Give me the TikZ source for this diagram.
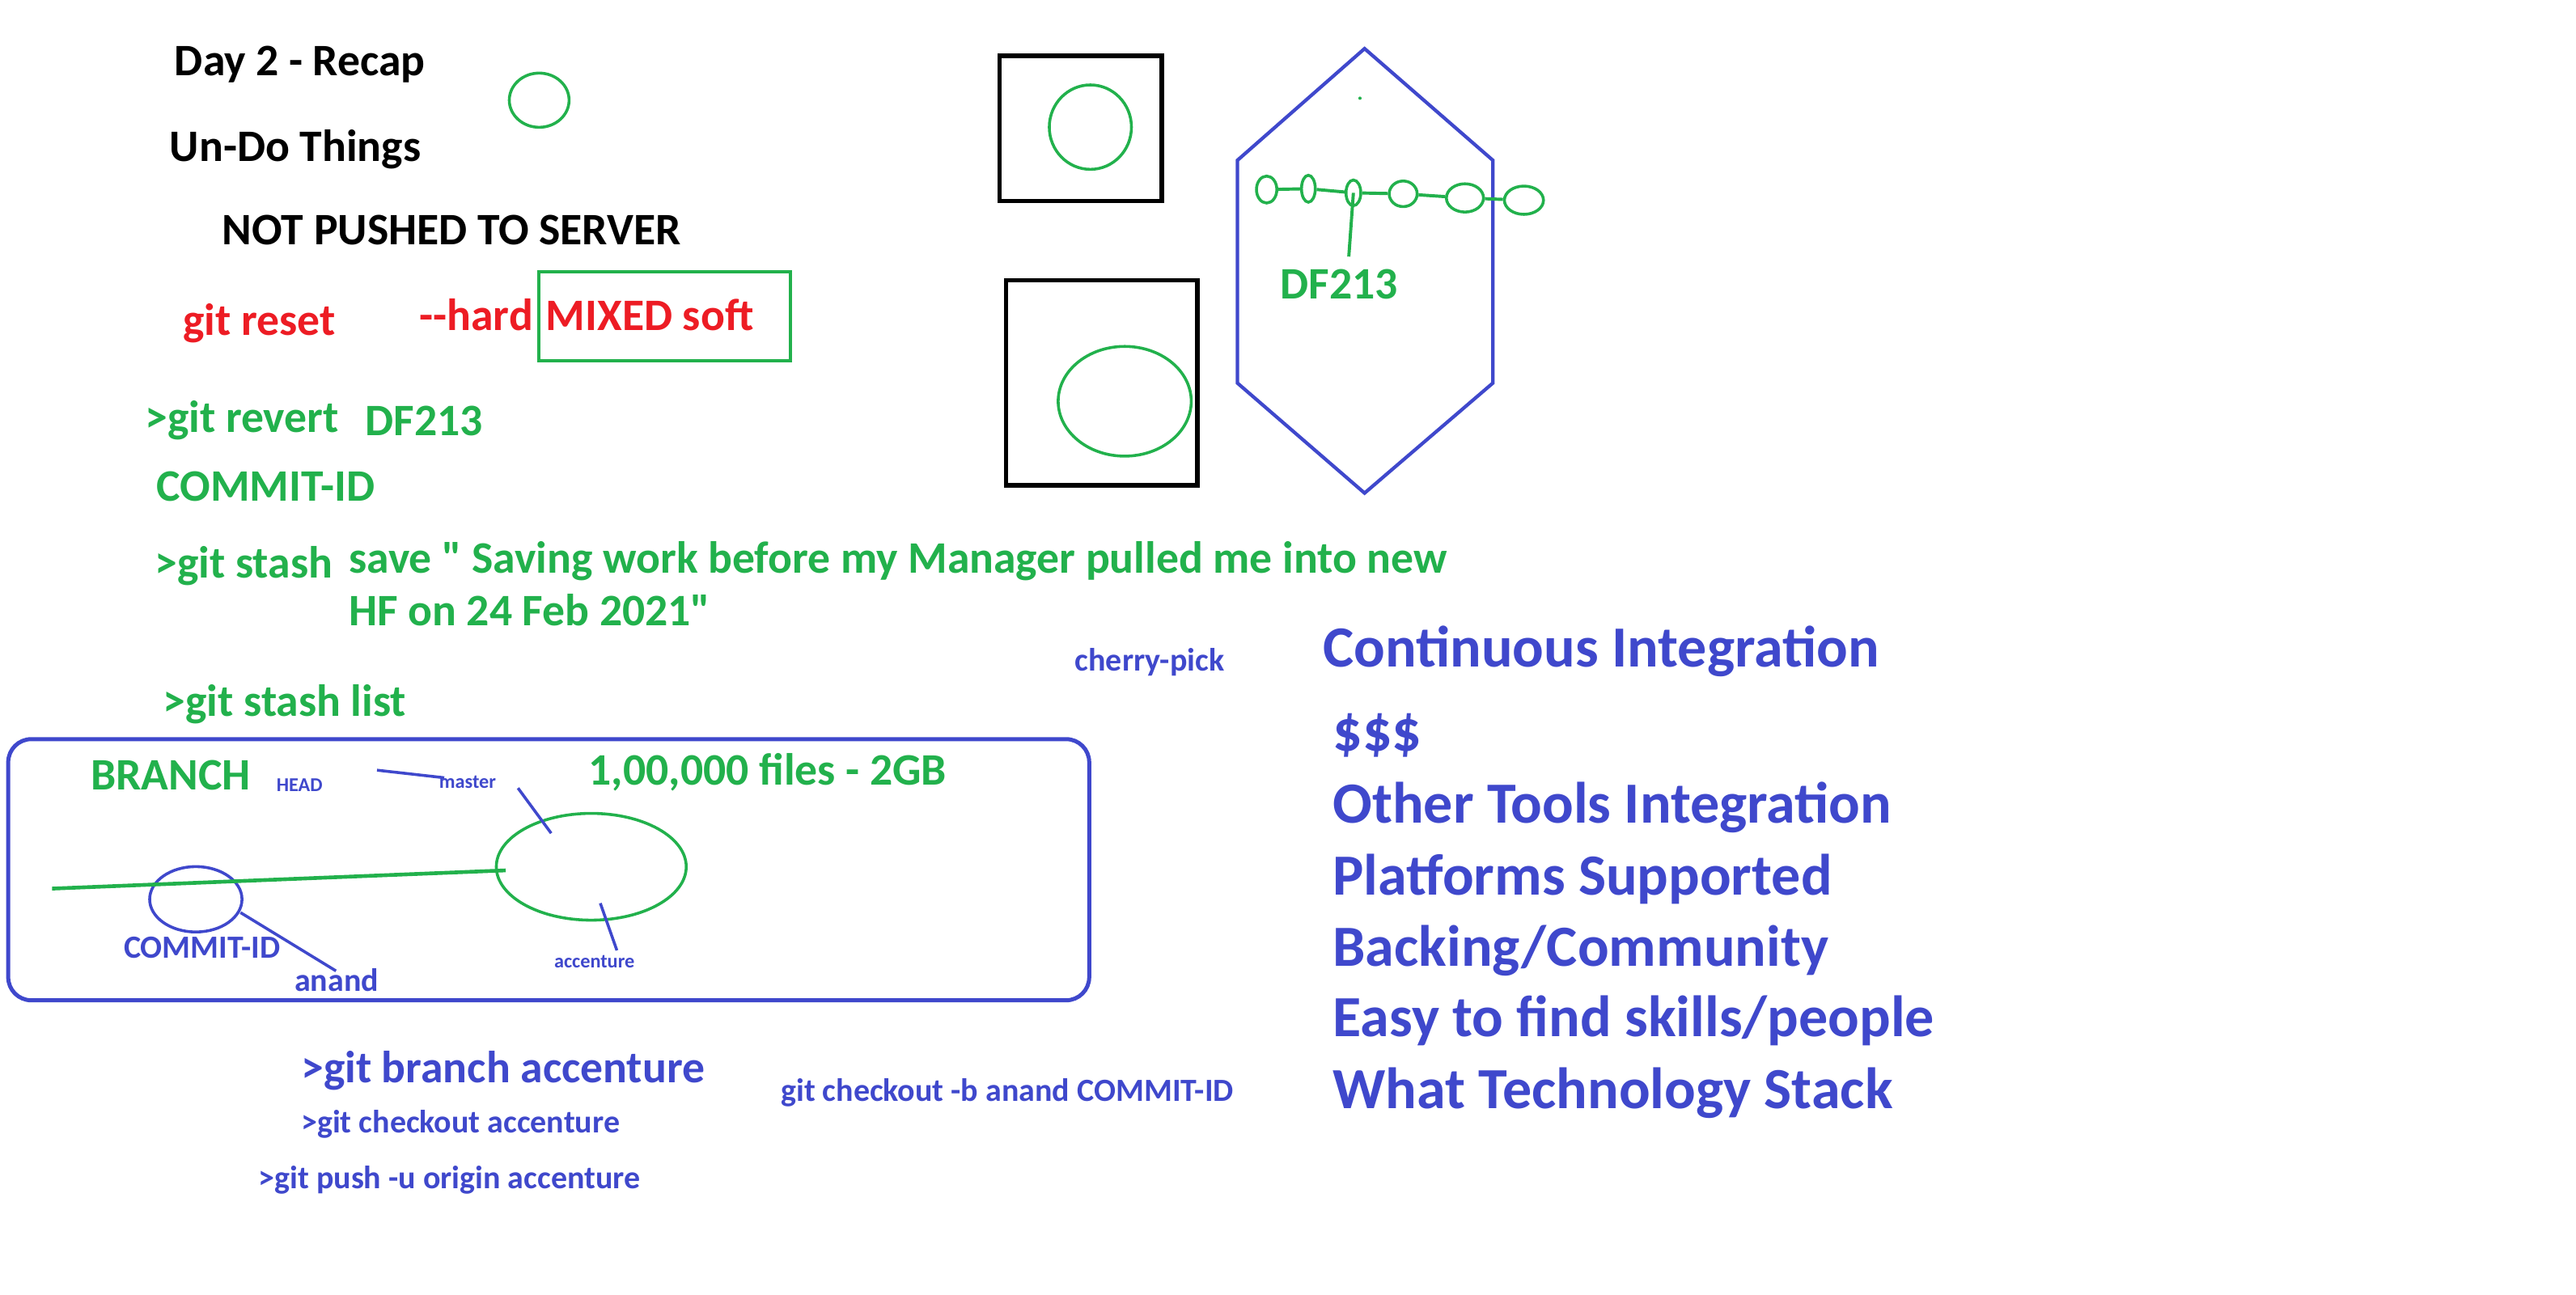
\documentclass[tikz,border=0pt]{standalone}
\usepackage{fontspec}
\newfontfamily\calfont{Carlito}
\usetikzlibrary{shapes.geometric}
\definecolor{pgreen}{HTML}{22B14C}
\definecolor{pred}{HTML}{ED1C24}
\definecolor{pblue}{HTML}{3F48CC}
\tikzset{
  txtmain/.style={anchor=west, inner sep=0pt, text height=0.66em, text depth=0.2em, yshift=-0.12cm, font=\calfont\bfseries\fontsize{15.6}{18}\selectfont},
  txtbig/.style={anchor=west, inner sep=0pt, text height=0.66em, text depth=0.2em, yshift=-0.16cm, font=\calfont\bfseries\fontsize{20.2}{24}\selectfont},
  txtsmall/.style={anchor=west, inner sep=0pt, text height=0.66em, text depth=0.2em, yshift=-0.07cm, font=\calfont\bfseries\fontsize{11.2}{13}\selectfont},
  txttiny/.style={anchor=west, inner sep=0pt, text height=0.66em, text depth=0.2em, yshift=-0.04cm, font=\calfont\bfseries\fontsize{6.8}{8}\selectfont},
  ring/.style 2 args={ellipse, draw, inner sep=0pt, line width=1pt, minimum width=#1*0.02cm, minimum height=#2*0.02cm},
  gline/.style={draw=pgreen, line width=1.1pt},
  bline/.style={draw=pblue, line width=1pt},
  kbox/.style={draw=black, line width=1.5pt},
}
\begin{document}
\begin{tikzpicture}[x=0.02cm,y=-0.02cm]
\useasboundingbox[fill=white] (0,0) rectangle (1568,788);

% ---- left column texts
\node[txtmain, text=black] (day) at (106,36) {Day 2 - Recap};
\node[txtmain, text=black] (undo) at (103,88) {Un-Do Things};
\node[txtmain, text=black] (notpushed) at (135,139) {NOT PUSHED TO SERVER};
\node[txtmain, text=pred] (reset) at (111,194) {git reset};
\node[txtmain, text=pred] (hard) at (255,191) {--hard};
\node[txtmain, text=pred] (mixed) at (332,191) {MIXED soft};
\node[draw=pgreen, line width=1.1pt, inner sep=0pt, minimum width=153*0.02cm, minimum height=54.5*0.02cm] (mixbox) at (404.6,192.6) {};
\node[txtmain, text=pgreen] (revert) at (88,253) {>git revert};
\node[txtmain, text=pgreen] (dfa) at (222,255) {DF213};
\node[txtmain, text=pgreen] (cid) at (95,295) {COMMIT-ID};
\node[txtmain, text=pgreen] (stash) at (94,342) {>git stash};
\node[txtmain, text=pgreen] (save) at (212,339) {save " Saving work before my Manager pulled me into new};
\node[txtmain, text=pgreen] (hf) at (212,371) {HF on 24 Feb 2021"};
\node[txtmain, text=pgreen] (stashlist) at (99,426) {>git stash list};

% ---- small green circle
\node[ring={36.4}{33}, draw=pgreen] (c0) at (328.2,61) {};

% ---- black boxes with circles
\node[kbox, inner sep=0pt, minimum width=98.7*0.02cm, minimum height=88.6*0.02cm] (box1) at (657.8,78.2) {};
\node[ring={50}{51.4}, draw=pgreen] (c1) at (663.7,77.4) {};
\node[kbox, inner sep=0pt, minimum width=116.5*0.02cm, minimum height=124.9*0.02cm] (box2) at (670.6,233) {};
\node[ring={81}{66.8}, draw=pgreen] (c2) at (684.6,244.3) {};

% ---- hexagon
\draw[draw=pblue, line width=1.2pt] (830.6,29.6) -- (908.7,97.6) -- (908.7,233.2) -- (830.6,300.2) -- (753.2,233.2) -- (753.2,97.6) -- cycle;
\fill[pgreen] (827.8,59.8) circle [radius=1];
\node[ring={12.4}{16.4}, draw=pgreen] (e1) at (771.0,115.4) {};
\node[ring={8.4}{16.4}, draw=pgreen] (e2) at (796.4,114.9) {};
\node[ring={9}{15.6}, draw=pgreen] (e3) at (823.8,117.4) {};
\node[ring={17}{15.6}, draw=pgreen] (e4) at (854.1,118.0) {};
\node[ring={22.6}{17.2}, draw=pgreen] (e5) at (891.7,120.5) {};
\node[ring={23.8}{17.2}, draw=pgreen] (e6) at (927.6,121.9) {};
\draw[gline] (e1) -- (e2);
\draw[gline] (e2) -- (e3);
\draw[gline] (e3) -- (e4);
\draw[gline] (e4) -- (e5);
\draw[gline] (e5) -- (e6);
\coordinate (e3low) at (821.0,156.2);
\draw[gline] (e3.center) -- (e3low);
\node[txtmain, text=pgreen] (dfb) at (779,172) {DF213};

% ---- right list
\node[txtsmall, text=pblue] (cherry) at (654,401) {cherry-pick};
\node[txtbig, text=pblue] (ci) at (805,394) {Continuous Integration};
\node[txtbig, text=pblue] (money) at (811,445) {\$\$\$};
\node[txtbig, text=pblue] (tools) at (811,489) {Other Tools Integration};
\node[txtbig, text=pblue] (plat) at (811,533) {Platforms Supported};
\node[txtbig, text=pblue] (back) at (811,576) {Backing/Community};
\node[txtbig, text=pblue] (easy) at (811,619) {Easy to find skills/people};
\node[txtbig, text=pblue] (what) at (811,663) {What Technology Stack};

% ---- branch box
\draw[draw=pblue, line width=1.4pt, rounded corners=8] (5,450) rectangle (663,609);
\node[txtmain, text=pgreen] (branch) at (55,471) {BRANCH};
\node[txttiny, text=pblue] (head) at (168,476) {HEAD};
\node[txttiny, text=pblue] (master) at (267,474) {master};
\node[txtmain, text=pgreen] (files) at (358,468) {1,00,000 files - 2GB};
\node[ring={115.6}{65}, draw=pgreen] (acc) at (359.9,527.7) {};
\node[ring={56.2}{39.8}, draw=pblue] (cmt) at (119.2,547.5) {};
\coordinate (l0) at (31.7,541.0);
\coordinate (l1) at (307.8,529.9);
\draw[draw=pgreen, line width=1.3pt] (l0) -- (l1);
\coordinate (h1) at (229.5,468.9);
\coordinate (h2) at (270.4,473.5);
\draw[bline] (h1) -- (h2);
\coordinate (m1) at (315.3,479.8);
\coordinate (m2) at (335.5,507.3);
\draw[bline] (m1) -- (m2);
\coordinate (a1) at (365.4,549.9);
\coordinate (a2) at (375.5,578.6);
\draw[bline] (a1) -- (a2);
\coordinate (n1) at (146.4,555.6);
\coordinate (n2) at (204.5,591.1);
\draw[bline] (n1) -- (n2);
\node[txtsmall, text=pblue] (cid2) at (75,576) {COMMIT-ID};
\node[txtsmall, text=pblue] (anand) at (179,596) {anand};
\node[txttiny, text=pblue] (accl) at (337,583) {accenture};

% ---- bottom commands
\node[txtmain, text=pblue] (gbranch) at (183,649) {>git branch accenture};
\node[txtsmall, text=pblue] (gcheck) at (183,682) {>git checkout accenture};
\node[txtsmall, text=pblue] (gpush) at (157,716) {>git push -u origin accenture};
\node[txtsmall, text=pblue] (gcb) at (475,663) {git checkout -b anand COMMIT-ID};
\end{tikzpicture}
\end{document}
